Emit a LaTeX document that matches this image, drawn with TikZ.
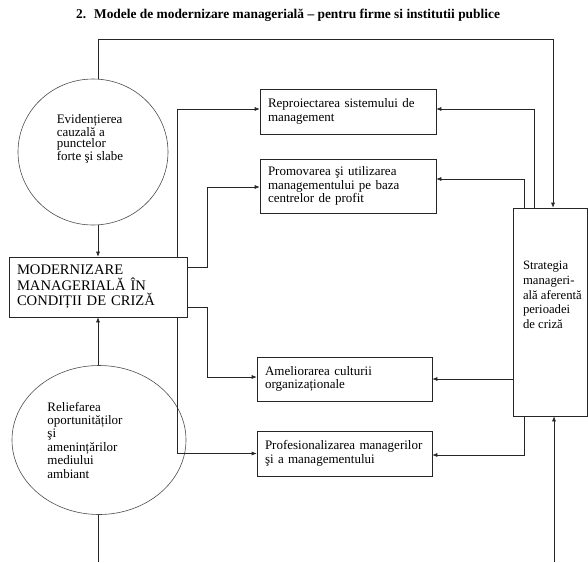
\documentclass[tikz,border=0pt]{standalone}
\usepackage{fontspec}
\setmainfont{Liberation Serif}
\usetikzlibrary{shapes.geometric, arrows.meta, positioning, calc}

\begin{document}
\begin{tikzpicture}[
  x=1pt, y=-1pt,
  line width=0.6pt, draw=black!85,
  every node/.style={font=\fontsize{13}{13.4}\selectfont, text=black},
  box/.style={rectangle, draw=black!85, fill=white, align=left,
              inner xsep=8pt, inner ysep=2pt},
  bubble/.style={ellipse, draw=black!70, inner sep=0pt},
  txt/.style={align=left, inner sep=0pt},
  arr/.style={-{Latex[length=5pt,width=4pt]}},
]
  \useasboundingbox (0,0) rectangle (588,562);

  \node[font=\bfseries\fontsize{13.4}{15}\selectfont] (title) at (288,15)
    {2.\hspace{0.6em}Modele de modernizare managerială -- pentru firme si institutii publice};

  \node[bubble, minimum width=150pt, minimum height=146pt,
        label={[txt, xshift=-3pt, yshift=13pt, font=\fontsize{13}{11.6}\selectfont]center:{Evidențierea\\cauzală a\\punctelor\\forte şi slabe}}]
        (evid) at (93,152) {};
  \node[box, text width=162pt, minimum height=60pt,
        font=\fontsize{14.6}{15.5}\selectfont]
        (modern) at (98,287) {MODERNIZARE\\MANAGERIALĂ ÎN\\CONDIȚII DE CRIZĂ};
  \node[bubble, minimum width=174pt, minimum height=149pt,
        label={[txt, xshift=-14pt]center:{Reliefarea\\oportunităților\\şi\\amenințărilor\\mediului\\ambiant}}]
        (relief) at (99,440) {};

  \node[box, text width=160pt, minimum height=45pt] (repro) at (348,111.5)
    {Reproiectarea sistemului de\\management};
  \node[box, text width=160pt, minimum height=54pt] (promo) at (348,186)
    {Promovarea şi utilizarea\\managementului pe baza\\centrelor de profit};
  \node[box, text width=159pt, minimum height=44pt] (amel) at (344.5,379)
    {Ameliorarea culturii\\organizaționale};
  \node[box, text width=159pt, minimum height=45pt] (prof) at (344.5,453.5)
    {Profesionalizarea managerilor\\şi a managementului};
  \node[box, minimum width=74pt, minimum height=208pt,
        label={[txt, anchor=north west, xshift=10pt, yshift=-53pt, font=\fontsize{12.7}{14.8}\selectfont]north west:{Strategia\\manageri-\\ală aferentă\\perioadei\\de criză}}]
        (strat) at (550,312) {};

  \coordinate (trunk) at (177,0);
  \coordinate (leftend) at (98,562);
  \coordinate (rightend) at (554,562);

  \draw[arr] (evid.north -| modern.north) -- ++(0,-39) -| ([xshift=3pt]strat.north);
  \draw[arr] (evid.south -| modern.north) -- (modern.north);
  \draw[arr] (relief.north -| modern.south) -- (modern.south);
  \draw (relief.south -| modern.south) -- (leftend);
  \draw[arr] (modern.north -| trunk) |- ([yshift=2.5pt]repro.west);
  \draw[arr] (modern.south -| trunk) |- (prof.west);
  \draw[arr] ([yshift=-11pt]modern.north east) -- ++(20,0) |- ([yshift=-1pt]promo.west);
  \draw[arr] ([yshift=10pt]modern.south east) -- ++(20,0) |- ([yshift=2pt]amel.west);
  \draw[arr] ([xshift=-16pt]strat.north) |- ([yshift=2.5pt]repro.east);
  \draw[arr] ([xshift=-26pt]strat.north) |- ([yshift=7pt]promo.east);
  \draw[arr] (strat.west |- amel.east) -- (amel.east);
  \draw[arr] ([xshift=-26pt]strat.south) |- ([yshift=-1.5pt]prof.east);
  \draw[arr] (rightend) -- ([xshift=4pt]strat.south);
\end{tikzpicture}
\end{document}
